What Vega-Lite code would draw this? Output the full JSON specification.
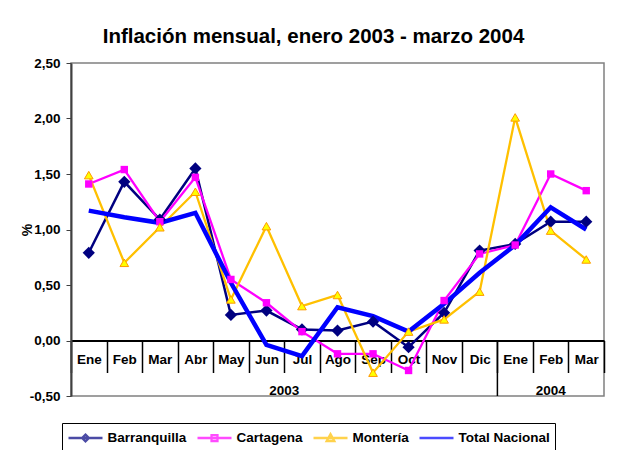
{
  "$schema": "https://vega.github.io/schema/vega-lite/v6.json",
  "width": 533,
  "height": 333,
  "autosize": {"type": "none"},
  "padding": {"left": 71, "top": 63, "right": 14, "bottom": 54},
  "background": "white",
  "title": {
    "text": "Inflación mensual, enero 2003 - marzo 2004",
    "fontSize": 20.5,
    "fontWeight": "bold",
    "font": "Liberation Sans",
    "color": "black",
    "anchor": "middle",
    "frame": "group",
    "dx": -24,
    "offset": 9
  },
  "datasets": {
    "inflacion": [
      {"mes": "Ene-03", "serie": "Barranquilla", "valor": 0.79},
      {"mes": "Feb-03", "serie": "Barranquilla", "valor": 1.43},
      {"mes": "Mar-03", "serie": "Barranquilla", "valor": 1.09},
      {"mes": "Abr-03", "serie": "Barranquilla", "valor": 1.55},
      {"mes": "May-03", "serie": "Barranquilla", "valor": 0.23},
      {"mes": "Jun-03", "serie": "Barranquilla", "valor": 0.27},
      {"mes": "Jul-03", "serie": "Barranquilla", "valor": 0.10},
      {"mes": "Ago-03", "serie": "Barranquilla", "valor": 0.09},
      {"mes": "Sep-03", "serie": "Barranquilla", "valor": 0.17},
      {"mes": "Oct-03", "serie": "Barranquilla", "valor": -0.06},
      {"mes": "Nov-03", "serie": "Barranquilla", "valor": 0.25},
      {"mes": "Dic-03", "serie": "Barranquilla", "valor": 0.81},
      {"mes": "Ene-04", "serie": "Barranquilla", "valor": 0.87},
      {"mes": "Feb-04", "serie": "Barranquilla", "valor": 1.07},
      {"mes": "Mar-04", "serie": "Barranquilla", "valor": 1.07},
      {"mes": "Ene-03", "serie": "Cartagena", "valor": 1.41},
      {"mes": "Feb-03", "serie": "Cartagena", "valor": 1.54},
      {"mes": "Mar-03", "serie": "Cartagena", "valor": 1.07},
      {"mes": "Abr-03", "serie": "Cartagena", "valor": 1.47},
      {"mes": "May-03", "serie": "Cartagena", "valor": 0.55},
      {"mes": "Jun-03", "serie": "Cartagena", "valor": 0.34},
      {"mes": "Jul-03", "serie": "Cartagena", "valor": 0.08},
      {"mes": "Ago-03", "serie": "Cartagena", "valor": -0.12},
      {"mes": "Sep-03", "serie": "Cartagena", "valor": -0.12},
      {"mes": "Oct-03", "serie": "Cartagena", "valor": -0.27},
      {"mes": "Nov-03", "serie": "Cartagena", "valor": 0.36},
      {"mes": "Dic-03", "serie": "Cartagena", "valor": 0.78},
      {"mes": "Ene-04", "serie": "Cartagena", "valor": 0.86},
      {"mes": "Feb-04", "serie": "Cartagena", "valor": 1.50},
      {"mes": "Mar-04", "serie": "Cartagena", "valor": 1.35},
      {"mes": "Ene-03", "serie": "Montería", "valor": 1.49},
      {"mes": "Feb-03", "serie": "Montería", "valor": 0.70},
      {"mes": "Mar-03", "serie": "Montería", "valor": 1.02},
      {"mes": "Abr-03", "serie": "Montería", "valor": 1.34},
      {"mes": "May-03", "serie": "Montería", "valor": 0.37},
      {"mes": "Jun-03", "serie": "Montería", "valor": 1.03},
      {"mes": "Jul-03", "serie": "Montería", "valor": 0.31},
      {"mes": "Ago-03", "serie": "Montería", "valor": 0.41},
      {"mes": "Sep-03", "serie": "Montería", "valor": -0.29},
      {"mes": "Oct-03", "serie": "Montería", "valor": 0.08},
      {"mes": "Nov-03", "serie": "Montería", "valor": 0.19},
      {"mes": "Dic-03", "serie": "Montería", "valor": 0.44},
      {"mes": "Ene-04", "serie": "Montería", "valor": 2.01},
      {"mes": "Feb-04", "serie": "Montería", "valor": 0.99},
      {"mes": "Mar-04", "serie": "Montería", "valor": 0.73},
      {"mes": "Ene-03", "serie": "Total Nacional", "valor": 1.17},
      {"mes": "Feb-03", "serie": "Total Nacional", "valor": 1.11},
      {"mes": "Mar-03", "serie": "Total Nacional", "valor": 1.06},
      {"mes": "Abr-03", "serie": "Total Nacional", "valor": 1.15},
      {"mes": "May-03", "serie": "Total Nacional", "valor": 0.52},
      {"mes": "Jun-03", "serie": "Total Nacional", "valor": -0.04},
      {"mes": "Jul-03", "serie": "Total Nacional", "valor": -0.14},
      {"mes": "Ago-03", "serie": "Total Nacional", "valor": 0.30},
      {"mes": "Sep-03", "serie": "Total Nacional", "valor": 0.22},
      {"mes": "Oct-03", "serie": "Total Nacional", "valor": 0.08},
      {"mes": "Nov-03", "serie": "Total Nacional", "valor": 0.33},
      {"mes": "Dic-03", "serie": "Total Nacional", "valor": 0.61},
      {"mes": "Ene-04", "serie": "Total Nacional", "valor": 0.86},
      {"mes": "Feb-04", "serie": "Total Nacional", "valor": 1.20},
      {"mes": "Mar-04", "serie": "Total Nacional", "valor": 1.00}
    ],
    "anio2003": [{"anio": "2003", "mes": "Jun-03"}],
    "anio2004": [{"anio": "2004", "mes": "Feb-04"}],
    "separador": [{"mes": "Ene-04", "desde": 0, "hasta": -0.5}]
  },
  "layer": [
    {
      "data": {"name": "inflacion"},
      "transform": [{"filter": "datum.serie === 'Barranquilla'"}],
      "mark": {"type": "line", "clip": false, "color": "#000080", "strokeWidth": 2.5},
      "encoding": {
        "x": {
          "field": "mes",
          "type": "nominal",
          "sort": null,
          "scale": {
            "domain": ["Ene-03", "Feb-03", "Mar-03", "Abr-03", "May-03", "Jun-03", "Jul-03", "Ago-03", "Sep-03", "Oct-03", "Nov-03", "Dic-03", "Ene-04", "Feb-04", "Mar-04"],
            "paddingInner": 0,
            "paddingOuter": 0
          },
          "axis": {
            "title": null,
            "offset": -55.5,
            "labelAngle": 0,
            "labelExpr": "split(datum.label, '-')[0]",
            "labelFontSize": 13.5,
            "labelPadding": -20,
            "tickBand": "extent",
            "tickSize": 32,
            "tickColor": "black",
            "tickWidth": 1.5,
            "domainColor": "black",
            "domainWidth": 2
          }
        },
        "y": {
          "field": "valor",
          "type": "quantitative",
          "scale": {"domain": [-0.5, 2.5], "nice": false, "zero": false},
          "axis": {
            "title": "%",
            "titleFontSize": 14,
            "titleFontWeight": "bold",
            "titleColor": "black",
            "titleX": -40,
            "titleBaseline": "alphabetic",
            "values": [-0.5, 0, 0.5, 1, 1.5, 2, 2.5],
            "labelExpr": "replace(replace(format(datum.value, '.2f'), '.', ','), '\u2212', '-')",
            "labelFontSize": 13.5,
            "labelPadding": 6,
            "tickSize": 5,
            "tickColor": "#404040",
            "domainColor": "#404040",
            "domainWidth": 2
          }
        }
      }
    },
    {
      "data": {"name": "inflacion"},
      "transform": [{"filter": "datum.serie === 'Cartagena'"}],
      "mark": {"type": "line", "clip": false, "color": "#FF00FF", "strokeWidth": 2.3},
      "encoding": {
        "x": {"field": "mes", "type": "nominal", "sort": null},
        "y": {"field": "valor", "type": "quantitative"}
      }
    },
    {
      "data": {"name": "inflacion"},
      "transform": [{"filter": "datum.serie === 'Montería'"}],
      "mark": {"type": "line", "clip": false, "color": "#FFC000", "strokeWidth": 2.3},
      "encoding": {
        "x": {"field": "mes", "type": "nominal", "sort": null},
        "y": {"field": "valor", "type": "quantitative"}
      }
    },
    {
      "data": {"name": "inflacion"},
      "transform": [{"filter": "datum.serie === 'Total Nacional'"}],
      "mark": {"type": "line", "clip": false, "color": "#0000FF", "strokeWidth": 4.5},
      "encoding": {
        "x": {"field": "mes", "type": "nominal", "sort": null},
        "y": {"field": "valor", "type": "quantitative"}
      }
    },
    {
      "data": {"name": "inflacion"},
      "transform": [{"filter": "datum.serie === 'Barranquilla'"}],
      "mark": {"type": "point", "shape": "diamond", "filled": true, "size": 150, "color": "#000080", "opacity": 1, "clip": false},
      "encoding": {
        "x": {"field": "mes", "type": "nominal", "sort": null},
        "y": {"field": "valor", "type": "quantitative"}
      }
    },
    {
      "data": {"name": "inflacion"},
      "transform": [{"filter": "datum.serie === 'Cartagena'"}],
      "mark": {"type": "point", "shape": "square", "filled": true, "size": 55, "color": "#FF00FF", "opacity": 1, "clip": false},
      "encoding": {
        "x": {"field": "mes", "type": "nominal", "sort": null},
        "y": {"field": "valor", "type": "quantitative"}
      }
    },
    {
      "data": {"name": "inflacion"},
      "transform": [{"filter": "datum.serie === 'Montería'"}],
      "mark": {"type": "point", "shape": "triangle-up", "filled": true, "size": 75, "fill": "#FFFF00", "stroke": "#FF9900", "strokeWidth": 1, "opacity": 1, "clip": false},
      "encoding": {
        "x": {"field": "mes", "type": "nominal", "sort": null},
        "y": {"field": "valor", "type": "quantitative"}
      }
    },
    {
      "data": {"name": "separador"},
      "mark": {"type": "rule", "color": "black", "strokeWidth": 1.5},
      "encoding": {
        "x": {"field": "mes", "type": "nominal", "sort": null, "bandPosition": 0},
        "y": {"field": "desde", "type": "quantitative"},
        "y2": {"field": "hasta"}
      }
    },
    {
      "data": {"name": "anio2003"},
      "mark": {"type": "text", "fontSize": 13.5, "fontWeight": "bold", "color": "black", "baseline": "alphabetic", "dy": -1},
      "encoding": {
        "x": {"field": "mes", "type": "nominal", "sort": null, "bandPosition": 1},
        "y": {"datum": -0.5},
        "text": {"field": "anio"}
      }
    },
    {
      "data": {"name": "anio2004"},
      "mark": {"type": "text", "fontSize": 13.5, "fontWeight": "bold", "color": "black", "baseline": "alphabetic", "dy": -1},
      "encoding": {
        "x": {"field": "mes", "type": "nominal", "sort": null, "bandPosition": 0.5},
        "y": {"datum": -0.5},
        "text": {"field": "anio"}
      }
    },
    {
      "data": {"name": "inflacion"},
      "transform": [{"filter": "false"}],
      "mark": {"type": "point", "filled": false},
      "encoding": {
        "x": {"field": "mes", "type": "nominal", "sort": null},
        "y": {"field": "valor", "type": "quantitative"},
        "color": {
          "field": "serie",
          "type": "nominal",
          "scale": {
            "domain": ["Barranquilla", "Cartagena", "Montería", "Total Nacional"],
            "range": ["#000080", "#FF00FF", "#FFC000", "#0000FF"]
          },
          "legend": {
            "title": null,
            "orient": "none",
            "legendX": -9,
            "legendY": 360,
            "direction": "horizontal",
            "gridAlign": "none",
            "strokeColor": "black",
            "fillColor": "white",
            "padding": 5,
            "symbolSize": 289,
            "symbolOffset": 8.5,
            "symbolStrokeWidth": 2.3,
            "labelOffset": 12,
            "columnPadding": 5,
            "labelFontSize": 13.5,
            "labelFontWeight": "bold",
            "labelColor": "black",
            "labelFont": "Liberation Sans",
            "encode": {
              "legend": {
                "update": {
                  "strokeWidth": {"value": 1.2}
                }
              },
              "symbols": {
                "update": {
                  "fill": {"signal": "datum.value === 'Montería' ? '#FFFF00' : datum.value === 'Total Nacional' ? 'transparent' : scale('color', datum.value)"},
                  "strokeWidth": {"signal": "datum.value === 'Total Nacional' ? 4.5 : 2.3"},
                  "opacity": {"value": 1}
                }
              }
            }
          }
        },
        "shape": {
          "field": "serie",
          "type": "nominal",
          "scale": {
            "domain": ["Barranquilla", "Cartagena", "Montería", "Total Nacional"],
            "range": [
              "M-2,0H2M0,-0.4L0.4,0L0,0.4L-0.4,0Z",
              "M-2,0H2M-0.35,-0.35H0.35V0.35H-0.35Z",
              "M-2,0H2M0,-0.45L0.45,0.35H-0.45Z",
              "M-2,0H2"
            ]
          }
        }
      }
    }
  ],
  "config": {
    "font": "Liberation Sans",
    "view": {"stroke": "#808080", "strokeWidth": 1.5},
    "axis": {
      "grid": false,
      "labelFont": "Liberation Sans",
      "labelFontWeight": "bold",
      "labelColor": "black",
      "titleFont": "Liberation Sans"
    }
  }
}
